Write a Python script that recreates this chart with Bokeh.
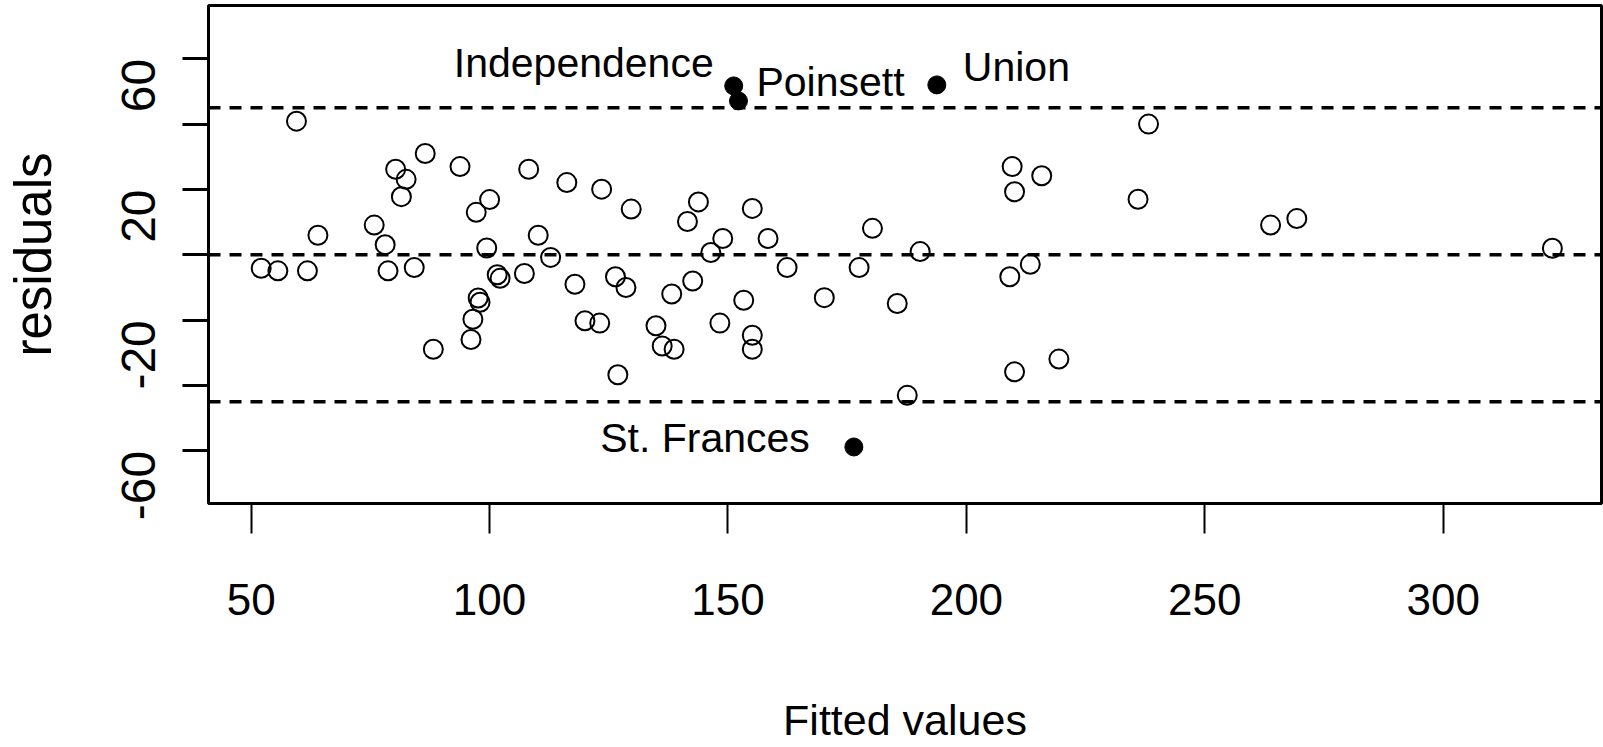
import math
from bokeh.plotting import figure
from bokeh.models import Range1d, FixedTicker, Span, ColumnDataSource
from bokeh.embed import file_html
from bokeh.resources import INLINE
from bokeh.core.properties import value

# ---- data ----
fitted = [59.5, 52.1, 55.6, 61.8, 64.0, 75.8, 78.1, 78.7, 84.2, 80.3,
          82.5, 81.5, 86.5, 88.2, 93.8, 100.0, 97.2, 99.4, 101.6, 102.2,
          107.3, 108.2, 110.2, 97.6, 98.0, 96.5, 96.1, 112.8, 116.2, 123.5,
          129.7, 143.8, 141.5, 155.1, 180.3, 209.6, 210.1, 215.8, 148.9, 146.4,
          158.4, 162.4, 177.5, 190.3, 117.9, 126.4, 128.6, 138.2, 142.6, 153.3,
          170.2, 185.5, 209.1, 213.4, 120.0, 123.1, 134.9, 148.3, 155.1, 155.1,
          136.2, 138.7, 126.9, 187.6, 210.1, 219.4, 238.2, 236.0, 263.8, 269.3,
          322.9]
residuals = [40.9, -4.1, -4.9, -4.9, 6.0, 9.1, 3.1, -4.9, -3.9, 26.2,
             23.1, 17.8, 31.0, -28.9, 27.0, 16.9, 13.0, 2.1, -6.1, -7.2,
             -5.7, 26.2, 6.0, -13.2, -14.5, -19.7, -25.9, -0.8, 22.1, 20.1,
             14.0, 16.2, 10.2, 14.2, 8.1, 27.0, 19.3, 24.2, 5.0, 0.7,
             5.0, -3.9, -3.9, 1.0, -9.0, -6.7, -10.0, -12.0, -8.0, -13.9,
             -13.1, -14.9, -6.7, -2.9, -20.2, -20.9, -21.7, -20.9, -24.6, -28.9,
             -27.9, -28.9, -36.7, -43.0, -35.8, -31.9, 40.0, 17.0, 9.1, 11.1,
             2.0]

out_names = ["Independence", "Poinsett", "Union", "St. Frances"]
out_fitted = [151.2, 152.2, 193.8, 176.4]
out_resid = [51.7, 47.1, 52.0, -58.8]

ref_lines = [45, 0, -45]
x_ticks = [50, 100, 150, 200, 250, 300]
y_ticks = [-60, -40, -20, 0, 20, 40, 60]
y_tick_text = ["-60", "", "-20", "", "20", "", "60"]

# ---- styles (not data) ----
label_side = ["right", "left", "left", "right"]   # text alignment
label_dx = [-20, 18, 26, -44]
label_dy = [-23, -19, -18, -9]

FONT = "Liberation Sans"

p = figure(width=1603, height=747, output_backend="svg", toolbar_location=None,
           x_range=Range1d(41.05, 333.2), y_range=Range1d(-76.1, 76.3),
           min_border_left=208, min_border_right=2, min_border_top=5,
           min_border_bottom=244)
p.background_fill_color = "white"
p.border_fill_color = "white"
p.grid.visible = False
p.outline_line_color = "black"
p.outline_line_width = 3

# x axis
xa = p.xaxis[0]
xa.ticker = FixedTicker(ticks=x_ticks)
xa.axis_line_color = None
xa.major_tick_line_color = "black"
xa.major_tick_line_width = 2
xa.major_tick_out = 30
xa.major_tick_in = 0
xa.minor_tick_line_color = None
xa.major_label_text_font = FONT
xa.major_label_text_font_size = "44px"
xa.major_label_text_color = "black"
xa.major_label_standoff = 50
xa.axis_label = "Fitted values"
xa.axis_label_text_font = FONT
xa.axis_label_text_font_size = "43px"
xa.axis_label_text_font_style = "normal"
xa.axis_label_text_color = "black"
xa.axis_label_standoff = 78

# y axis
ya = p.yaxis[0]
ya.ticker = FixedTicker(ticks=y_ticks)
ya.major_label_overrides = {t: s for t, s in zip(y_ticks, y_tick_text)}
ya.axis_line_color = None
ya.major_tick_line_color = "black"
ya.major_tick_line_width = 3
ya.major_tick_out = 26
ya.major_tick_in = 0
ya.minor_tick_line_color = None
ya.major_label_orientation = math.pi / 2
ya.major_label_text_font = FONT
ya.major_label_text_font_size = "48px"
ya.major_label_text_color = "black"
ya.major_label_standoff = 44
ya.axis_label = "residuals"
ya.axis_label_text_font = FONT
ya.axis_label_text_font_size = "51px"
ya.axis_label_text_font_style = "normal"
ya.axis_label_text_color = "black"
ya.axis_label_standoff = 41

for yv in ref_lines:
    p.add_layout(Span(location=yv, dimension="width", line_color="black",
                      line_width=3.5, line_dash="12 9"))

p.scatter(fitted, residuals, size=19, marker="circle", fill_color=None,
          line_color="black", line_width=2)
p.scatter(out_fitted, out_resid, size=18, marker="circle", fill_color="black",
          line_color="black", line_width=1)

for side in ["left", "right"]:
    idx = [i for i, s in enumerate(label_side) if s == side]
    src = ColumnDataSource(dict(
        x=[out_fitted[i] for i in idx], y=[out_resid[i] for i in idx],
        t=[out_names[i] for i in idx], dx=[label_dx[i] for i in idx],
        dy=[label_dy[i] for i in idx]))
    p.text(x="x", y="y", text="t", x_offset="dx", y_offset="dy", source=src,
           text_align=side, text_baseline="alphabetic",
           text_font=value(FONT), text_font_size=value("41px"),
           text_color="black")

open("out.html", "w").write(file_html(p, INLINE))
